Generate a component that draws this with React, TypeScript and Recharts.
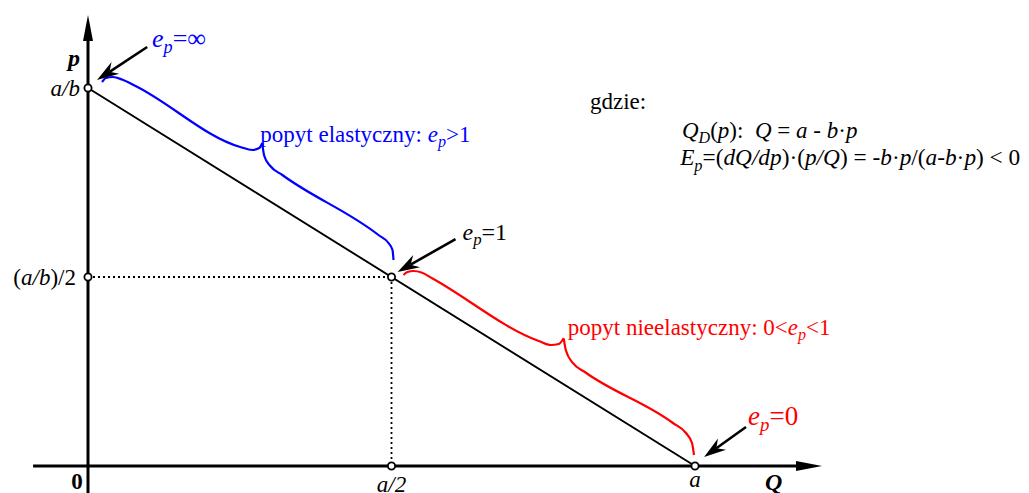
import React from 'react';
import { ComposedChart, Line, XAxis, YAxis, ReferenceLine, ReferenceDot } from 'recharts';

// Units: a = 2, a/b = 2  (Q on x, p on y)
const demandLine = [
  { q: 0, p: 2 },
  { q: 2, p: 0 },
];
const keyPoints = [
  { q: 0, p: 2 },
  { q: 0, p: 1 },
  { q: 1, p: 1 },
  { q: 1, p: 0 },
  { q: 2, p: 0 },
];
const guideHorizontal = [
  { q: 0, p: 1 },
  { q: 1, p: 1 },
];
const guideVertical = [
  { q: 1, p: 1 },
  { q: 1, p: 0 },
];
const elasticBraceLeft = [
  { q: 0.0462, p: 2.0317 },
  { q: 0.0594, p: 2.0529 },
  { q: 0.0825, p: 2.0582 },
  { q: 0.1122, p: 2.045 },
  { q: 0.1551, p: 2.012 },
  { q: 0.5017, p: 1.6878 },
  { q: 0.5413, p: 1.672 },
  { q: 0.5644, p: 1.6825 },
  { q: 0.5743, p: 1.709 },
];
const elasticBraceRight = [
  { q: 0.5743, p: 1.7037 },
  { q: 0.5809, p: 1.6402 },
  { q: 0.6007, p: 1.5873 },
  { q: 0.6403, p: 1.5397 },
  { q: 0.9571, p: 1.2222 },
  { q: 0.9901, p: 1.1799 },
  { q: 1.0033, p: 1.1429 },
  { q: 1.0066, p: 1.0899 },
];
const inelasticBraceLeft = [
  { q: 1.0396, p: 1.0106 },
  { q: 1.0528, p: 1.0265 },
  { q: 1.0726, p: 1.0317 },
  { q: 1.099, p: 1.024 },
  { q: 1.1353, p: 0.992 },
  { q: 1.4851, p: 0.6614 },
  { q: 1.5248, p: 0.6402 },
  { q: 1.5512, p: 0.6455 },
  { q: 1.5677, p: 0.6772 },
];
const inelasticBraceRight = [
  { q: 1.5677, p: 0.672 },
  { q: 1.5743, p: 0.6138 },
  { q: 1.5974, p: 0.545 },
  { q: 1.637, p: 0.4974 },
  { q: 1.9274, p: 0.2275 },
  { q: 1.9703, p: 0.1746 },
  { q: 1.9901, p: 0.1217 },
  { q: 1.9967, p: 0.0582 },
];
const pTickLabels = ['a/b', '(a/b)/2'];
const qTickLabels = ['0', 'a/2', 'a'];

const W = 1029;
const H = 493;
const FONT = '"Liberation Serif", "Times New Roman", "DejaVu Serif", serif';
const BLUE = '#0000ff';
const RED = '#ff0000';

type Seg = { t: string; i?: boolean; b?: boolean; sub?: boolean };

function RichText(props: {
  x: number;
  y: number;
  segs: Seg[];
  fs: number;
  fill?: string;
  anchor?: 'start' | 'middle' | 'end';
}) {
  const { x, y, segs, fs, fill = '#000', anchor = 'start' } = props;
  const shift = fs * 0.22;
  let inSub = false;
  return (
    <text x={x} y={y} fontSize={fs} fill={fill} fontFamily={FONT} textAnchor={anchor} xmlSpace="preserve">
      {segs.map((s, k) => {
        let dy = 0;
        if (s.sub && !inSub) dy = shift;
        if (!s.sub && inSub) dy = -shift;
        inSub = !!s.sub;
        return (
          <tspan
            key={k}
            dy={dy || undefined}
            fontStyle={s.i ? 'italic' : 'normal'}
            fontWeight={s.b ? 'bold' : 'normal'}
            fontSize={s.sub ? fs * 0.7 : fs}
          >
            {s.t}
          </tspan>
        );
      })}
    </text>
  );
}

function makeArrow(len: number, half: number, notch: number, width: number, color = '#000') {
  return (props: any) => {
    const { x1, y1, x2, y2 } = props;
    const dx = x2 - x1;
    const dy = y2 - y1;
    const L = Math.hypot(dx, dy) || 1;
    const ux = dx / L;
    const uy = dy / L;
    const nx = -uy;
    const ny = ux;
    const bx = x2 - ux * len;
    const by = y2 - uy * len;
    const mx = x2 - ux * (len - notch);
    const my = y2 - uy * (len - notch);
    return (
      <g>
        <line x1={x1} y1={y1} x2={mx} y2={my} stroke={color} strokeWidth={width} />
        <polygon
          points={`${x2},${y2} ${bx + nx * half},${by + ny * half} ${mx},${my} ${bx - nx * half},${by - ny * half}`}
          fill={color}
        />
      </g>
    );
  };
}

const axisArrow = makeArrow(26, 5, 0, 3);
const noteArrow = makeArrow(22, 7, 7, 2.6);

function Txt(props: {
  q: number;
  p: number;
  segs: Seg[];
  fs: number;
  fill?: string;
  anchor?: 'start' | 'middle' | 'end';
}) {
  const { q, p, segs, fs, fill, anchor } = props;
  return (
    <ReferenceDot
      x={q}
      y={p}
      r={0}
      ifOverflow="visible"
      shape={(pr: any) => <RichText x={pr.cx} y={pr.cy} segs={segs} fs={fs} fill={fill} anchor={anchor} />}
    />
  );
}

export default function App() {
  const braceProps = {
    type: 'monotone' as const,
    dataKey: 'p',
    dot: false,
    activeDot: false,
    strokeWidth: 2.2,
    isAnimationActive: false,
  };
  return (
    <div style={{ position: 'absolute', left: 0, top: 0, background: '#fff' }}>
      <ComposedChart width={W} height={H} margin={{ top: 0, right: 0, bottom: 0, left: 0 }}>
        <XAxis type="number" dataKey="q" domain={[-88 / 303.5, (W - 88) / 303.5]} hide allowDataOverflow />
        <YAxis type="number" dataKey="p" domain={[-27 / 189, 466 / 189]} hide allowDataOverflow />

        <Line data={guideHorizontal} dataKey="p" stroke="#000" strokeWidth={1.8} strokeDasharray="2 3" dot={false} activeDot={false} isAnimationActive={false} />
        <Line data={guideVertical} dataKey="p" stroke="#000" strokeWidth={1.8} strokeDasharray="2 3" dot={false} activeDot={false} isAnimationActive={false} />
        <Line data={demandLine} dataKey="p" stroke="#000" strokeWidth={1.9} dot={false} activeDot={false} isAnimationActive={false} />

        <Line data={elasticBraceLeft} stroke={BLUE} {...braceProps} />
        <Line data={elasticBraceRight} stroke={BLUE} {...braceProps} />
        <Line data={inelasticBraceLeft} stroke={RED} {...braceProps} />
        <Line data={inelasticBraceRight} stroke={RED} {...braceProps} />

        <ReferenceLine segment={[{ x: 0, y: -0.16 }, { x: 0, y: 2.386 }]} ifOverflow="visible" shape={axisArrow} />
        <ReferenceLine segment={[{ x: -0.181, y: 0 }, { x: 2.4185, y: 0 }]} ifOverflow="visible" shape={axisArrow} />

        <ReferenceLine segment={[{ x: 0.195, y: 2.217 }, { x: 0.0297, y: 2.042 }]} ifOverflow="visible" shape={noteArrow} />
        <ReferenceLine segment={[{ x: 1.211, y: 1.201 }, { x: 1.02, y: 1.026 }]} ifOverflow="visible" shape={noteArrow} />
        <ReferenceLine segment={[{ x: 2.168, y: 0.206 }, { x: 2.03, y: 0.048 }]} ifOverflow="visible" shape={noteArrow} />

        {keyPoints.map((d, k) => (
          <ReferenceDot key={k} x={d.q} y={d.p} r={3.6} fill="#fff" stroke="#000" strokeWidth={1.8} ifOverflow="visible" />
        ))}

        <Txt q={-0.066} p={2.116} fs={24} segs={[{ t: 'p', i: true, b: true }]} />
        <Txt q={-0.0264} p={1.958} fs={23} anchor="end" segs={[{ t: pTickLabels[0], i: true }]} />
        <Txt q={-0.0396} p={0.958} fs={23} anchor="end" segs={[{ t: '(' }, { t: 'a/b', i: true }, { t: ')/2' }]} />
        <Txt q={-0.036} p={-0.1217} fs={23} anchor="middle" segs={[{ t: qTickLabels[0], b: true }]} />
        <Txt q={1.0} p={-0.14} fs={23} anchor="middle" segs={[{ t: qTickLabels[1], i: true }]} />
        <Txt q={2.0} p={-0.111} fs={23} anchor="middle" segs={[{ t: qTickLabels[2], i: true }]} />
        <Txt q={2.231} p={-0.127} fs={24} segs={[{ t: 'Q', i: true, b: true }]} />

        <Txt q={0.211} p={2.217} fs={26} fill={BLUE} segs={[{ t: 'e', i: true }, { t: 'p', i: true, sub: true }, { t: '=∞' }]} />
        <Txt q={0.5677} p={1.714} fs={23} fill={BLUE} segs={[{ t: 'popyt elastyczny: ' }, { t: 'e', i: true }, { t: 'p', i: true, sub: true }, { t: '>1' }]} />
        <Txt q={1.234} p={1.196} fs={24} segs={[{ t: 'e', i: true }, { t: 'p', i: true, sub: true }, { t: '=1' }]} />
        <Txt q={1.581} p={0.693} fs={23} fill={RED} segs={[{ t: 'popyt nieelastyczny: 0<' }, { t: 'e', i: true }, { t: 'p', i: true, sub: true }, { t: '<1' }]} />
        <Txt q={2.175} p={0.217} fs={27} fill={RED} segs={[{ t: 'e', i: true }, { t: 'p', i: true, sub: true }, { t: '=0' }]} />

        <Txt q={1.654} p={1.889} fs={23} segs={[{ t: 'gdzie:' }]} />
        <Txt
          q={1.957}
          p={1.735}
          fs={23}
          segs={[
            { t: 'Q', i: true },
            { t: 'D', i: true, sub: true },
            { t: '(' },
            { t: 'p', i: true },
            { t: '):\u00a0\u00a0' },
            { t: 'Q', i: true },
            { t: ' = ' },
            { t: 'a', i: true },
            { t: ' - ' },
            { t: 'b', i: true },
            { t: '·' },
            { t: 'p', i: true },
          ]}
        />
        <Txt
          q={1.951}
          p={1.59}
          fs={23.3}
          segs={[
            { t: 'E', i: true },
            { t: 'p', i: true, sub: true },
            { t: '=(' },
            { t: 'dQ/dp', i: true },
            { t: ')·(' },
            { t: 'p/Q', i: true },
            { t: ') = -' },
            { t: 'b', i: true },
            { t: '·' },
            { t: 'p', i: true },
            { t: '/(' },
            { t: 'a', i: true },
            { t: '-' },
            { t: 'b', i: true },
            { t: '·' },
            { t: 'p', i: true },
            { t: ') < 0' },
          ]}
        />
      </ComposedChart>
    </div>
  );
}
